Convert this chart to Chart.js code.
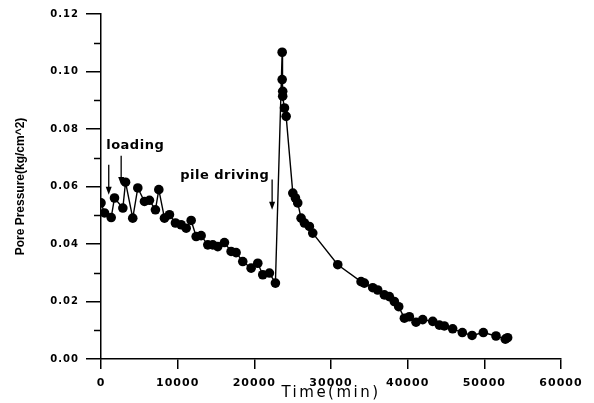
<!DOCTYPE html>
<html>
<head>
  <title>Pore Pressure</title>
  <script src="https://cdn.jsdelivr.net/npm/chart.js"></script>
  <style>
    body {
      margin: 0;
      padding: 0;
      background-color: #fff;
    }
    canvas {
      display: block;
    }
  </style>
</head>
<body>
  <canvas id="poreChart" width="594" height="403"></canvas>
  <script>
    // time (min) and pore pressure (kg/cm^2)
    const timeMin = [0, 460, 1330, 1760, 2850, 3200, 4140, 4800, 5670, 6320,
      7100, 7540, 8280, 8930, 9710, 10450, 11110, 11760, 12410, 13060,
      13930, 14580, 15230, 16100, 16970, 17620, 18490, 19580, 20450, 21100,
      21970, 22750, 23630, 23630, 23700, 23700, 23930, 24150, 25020, 25360,
      25660, 26100, 26530, 27180, 27620, 30880, 33920, 34350, 35440, 36090,
      36960, 37610, 38260, 38830, 39570, 40220, 41090, 41960, 43270, 44130,
      44780, 45870, 47130, 48400, 49870, 51520, 52740, 53040];
    const porePressure = [0.0543, 0.0508, 0.0492, 0.056, 0.0525, 0.0615, 0.049, 0.0595, 0.0548, 0.0552,
      0.0519, 0.0589, 0.049, 0.0502, 0.0473, 0.0467, 0.0455, 0.0482, 0.0426, 0.0429,
      0.0397, 0.0397, 0.0391, 0.0405, 0.0374, 0.037, 0.0339, 0.0316, 0.0333, 0.0293,
      0.0299, 0.0264, 0.1067, 0.0972, 0.0931, 0.0914, 0.0873, 0.0844, 0.0577, 0.056,
      0.0543, 0.049, 0.0473, 0.0461, 0.0438, 0.0328, 0.0269, 0.0264, 0.0248, 0.024,
      0.0223, 0.0217, 0.02, 0.0182, 0.0142, 0.0147, 0.0128, 0.0137, 0.0131, 0.0118,
      0.0115, 0.0105, 0.0092, 0.0082, 0.0092, 0.008, 0.0069, 0.0074];

    const xTicks = [0, 10000, 20000, 30000, 40000, 50000, 60000];
    const yTicks = [0, 0.02, 0.04, 0.06, 0.08, 0.10, 0.12];
    const yMinorTicks = [0.01, 0.03, 0.05, 0.07, 0.09, 0.11];

    const xTitle = 'Time(min)';
    const yTitle = 'Pore Pressure(kg/cm^2)';

    // notes on the plot, in data units
    const noteTexts = ['loading', 'pile driving'];
    const noteX = [680, 10330];
    const noteY = [0.0742, 0.0638];
    const arrowX = [1010, 2630, 22320];
    const arrowFrom = [0.0676, 0.0707, 0.0624];
    const arrowTo = [0.0571, 0.0605, 0.0519];

    const extras = {
      id: 'extras',
      beforeDraw(chart) {
        chart.ctx.letterSpacing = '1px';
      },
      afterDraw(chart) {
        const ctx = chart.ctx;
        const xs = chart.scales.x;
        const ys = chart.scales.y;
        const area = chart.chartArea;
        ctx.save();
        ctx.strokeStyle = '#000';
        ctx.fillStyle = '#000';
        ctx.lineWidth = 1.5;

        // minor ticks on the y axis
        yMinorTicks.forEach(v => {
          const py = Math.round(ys.getPixelForValue(v)) + 0.5;
          ctx.beginPath();
          ctx.moveTo(area.left - 7, py);
          ctx.lineTo(area.left, py);
          ctx.stroke();
        });

        // axis titles
        ctx.letterSpacing = '2.5px';
        ctx.font = '15px "DejaVu Sans"';
        ctx.textAlign = 'center';
        ctx.textBaseline = 'middle';
        ctx.fillText(xTitle, (area.left + area.right) / 2, 393);

        ctx.save();
        ctx.letterSpacing = '0px';
        ctx.font = 'bold 12px "Liberation Sans"';
        ctx.translate(21, (area.top + area.bottom) / 2);
        ctx.rotate(-Math.PI / 2);
        ctx.fillText(yTitle, 0, 0);
        ctx.restore();

        // annotations
        ctx.letterSpacing = '0.5px';
        ctx.font = 'bold 13px "DejaVu Sans"';
        ctx.textAlign = 'left';
        noteTexts.forEach((t, i) => {
          ctx.fillText(t, xs.getPixelForValue(noteX[i]), ys.getPixelForValue(noteY[i]));
        });

        ctx.lineWidth = 1.3;
        arrowX.forEach((x, i) => {
          const px = xs.getPixelForValue(x);
          const y0 = ys.getPixelForValue(arrowFrom[i]);
          const y1 = ys.getPixelForValue(arrowTo[i]);
          ctx.beginPath();
          ctx.moveTo(px, y0);
          ctx.lineTo(px, y1 - 6);
          ctx.stroke();
          ctx.beginPath();
          ctx.moveTo(px - 3, y1 - 8);
          ctx.lineTo(px + 3, y1 - 8);
          ctx.lineTo(px, y1);
          ctx.closePath();
          ctx.fill();
        });
        ctx.restore();
        ctx.letterSpacing = '0px';
      }
    };

    const points = timeMin.map((t, i) => ({ x: t, y: porePressure[i] }));

    new Chart(document.getElementById('poreChart'), {
      type: 'scatter',
      data: {
        datasets: [{
          data: points,
          showLine: true,
          borderColor: '#000',
          borderWidth: 1.4,
          backgroundColor: '#000',
          pointRadius: 4.8,
          pointBorderWidth: 0
        }]
      },
      options: {
        responsive: false,
        animation: false,
        layout: {
          padding: { left: 0, top: 14, right: 33, bottom: 0 }
        },
        plugins: {
          legend: { display: false },
          tooltip: { enabled: false }
        },
        scales: {
          x: {
            type: 'linear',
            min: 0,
            max: 60000,
            afterFit: scale => { scale.height = 44; },
            afterBuildTicks: scale => { scale.ticks = xTicks.map(v => ({ value: v })); },
            border: { display: true, color: '#000', width: 1.5 },
            grid: { drawOnChartArea: false, color: '#000', lineWidth: 1.5, tickLength: 10 },
            ticks: {
              color: '#000',
              padding: 8,
              maxRotation: 0,
              font: { family: 'DejaVu Sans', size: 11, weight: 'bold' },
              callback: v => String(v)
            }
          },
          y: {
            min: 0,
            max: 0.12,
            afterFit: scale => { scale.width = 101; },
            afterBuildTicks: scale => { scale.ticks = yTicks.map(v => ({ value: v })); },
            border: { display: true, color: '#000', width: 1.5 },
            grid: { drawOnChartArea: false, color: '#000', lineWidth: 1.5, tickLength: 15 },
            ticks: {
              color: '#000',
              padding: 7,
              font: { family: 'DejaVu Sans', size: 10, weight: 'bold' },
              callback: v => v.toFixed(2)
            }
          }
        }
      },
      plugins: [extras]
    });
  </script>
</body>
</html>
